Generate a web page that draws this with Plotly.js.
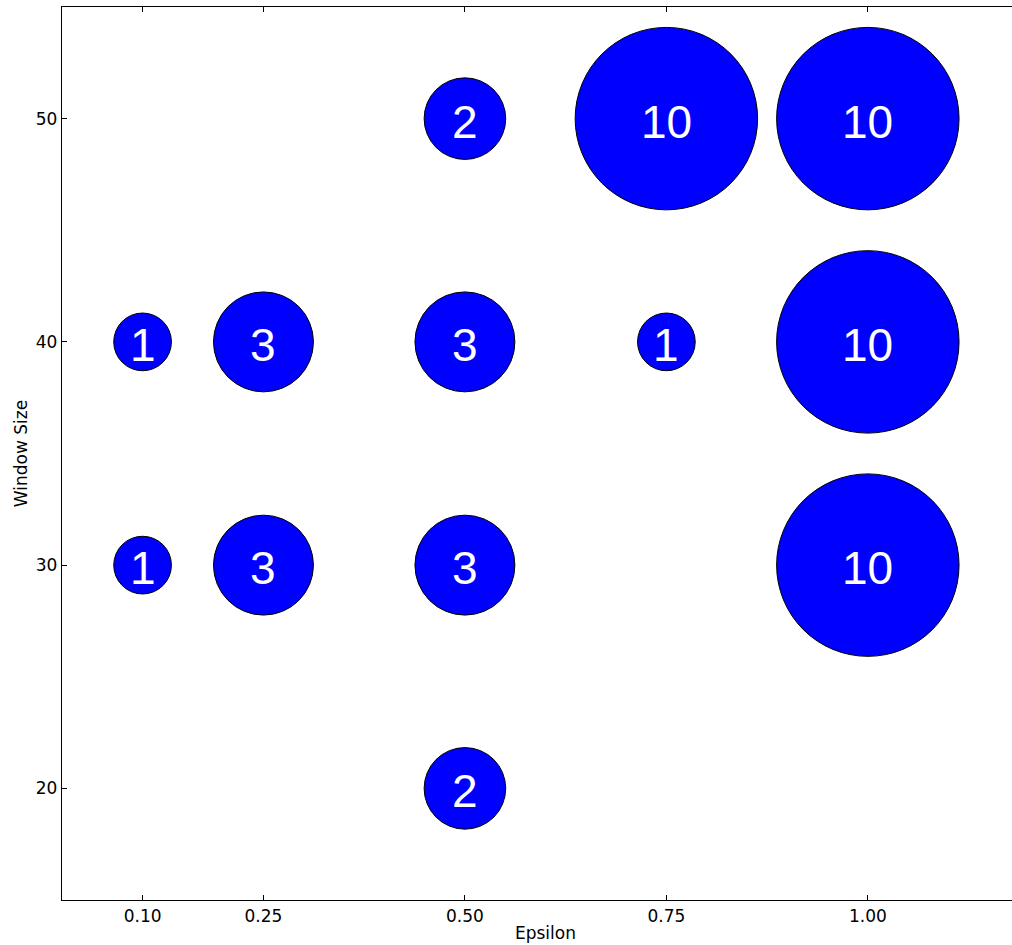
<!DOCTYPE html>
<html>
<head>
<meta charset="utf-8">
<script src="https://cdn.plot.ly/plotly-3.0.1.min.js"></script>
<style>
html,body{margin:0;padding:0;overflow:hidden;background:#fff;width:1012px;height:945px;}
#chart{width:1040px;height:945px;}
</style>
</head>
<body>
<div id="chart"></div>
<script>
const epsilon    = [0.10, 0.10, 0.25, 0.25, 0.50, 0.50, 0.50, 0.50, 0.75, 0.75, 1.00, 1.00, 1.00];
const windowSize = [40,   30,   40,   30,   50,   40,   30,   20,   50,   40,   50,   40,   30];
const counts     = [1,    1,    3,    3,    2,    3,    3,    2,    10,   1,    10,   10,   10];
const xTickVals  = [0.10, 0.25, 0.50, 0.75, 1.00];
const xTickText  = ['0.10', '0.25', '0.50', '0.75', '1.00'];
const yTickVals  = [20, 30, 40, 50];

const baseDiameter = 57.7;
const sizes = counts.map(c => baseDiameter * Math.sqrt(c));

const trace = {
  type: 'scatter',
  mode: 'markers',
  x: epsilon,
  y: windowSize,
  marker: {size: sizes, sizemode: 'diameter', color: '#0000ff', line: {color: '#000000', width: 1}, opacity: 1},
  hoverinfo: 'skip',
  cliponaxis: false
};

const labels = epsilon.map((x, i) => ({
  x: x, y: windowSize[i], xref: 'x', yref: 'y',
  text: String(counts[i]), showarrow: false,
  xanchor: 'center', yanchor: 'middle', yshift: -3,
  font: {family: 'Liberation Sans, Arial, sans-serif', size: 46, color: '#ffffff'}
}));

const tickFont = {family: 'DejaVu Sans, sans-serif', size: 17, color: '#000'};

const axisCommon = {
  showgrid: false, zeroline: false, showline: true, linecolor: '#000', linewidth: 1.3,
  mirror: 'ticks', ticks: 'inside', ticklen: 5, tickwidth: 1, tickcolor: '#000',
  tickfont: tickFont
};

const layout = {
  width: 1040, height: 945,
  margin: {l: 62, r: 11, t: 7, b: 45},
  paper_bgcolor: '#fff', plot_bgcolor: '#fff',
  showlegend: false,
  annotations: labels,
  xaxis: Object.assign({}, axisCommon, {
    range: [0, 1.2], tickmode: 'array', tickvals: xTickVals, ticktext: xTickText,
    title: {text: 'Epsilon', font: tickFont, standoff: 2}
  }),
  yaxis: Object.assign({}, axisCommon, {
    range: [15, 55], tickmode: 'array', tickvals: yTickVals, ticktext: yTickVals.map(String),
    title: {text: 'Window Size', font: tickFont, standoff: 3}
  })
};

Plotly.newPlot('chart', [trace], layout, {displayModeBar: false, staticPlot: true});
</script>
</body>
</html>
